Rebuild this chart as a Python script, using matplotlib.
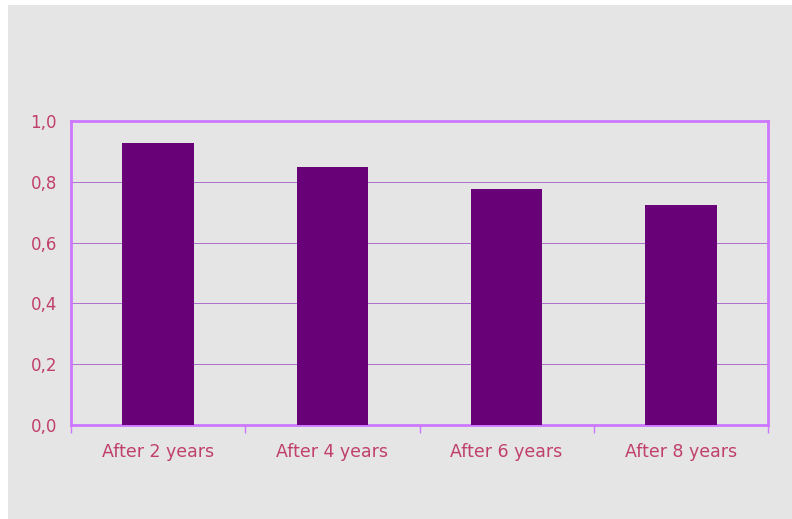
import numpy as np
import matplotlib.pyplot as plt
from matplotlib.patches import Rectangle

categories = ['After 2 years', 'After 4 years', 'After 6 years', 'After 8 years']
values = [0.928, 0.849, 0.776, 0.724]
yticks = [0.0, 0.2, 0.4, 0.6, 0.8, 1.0]
ytick_labels = ['0,0', '0,2', '0,4', '0,6', '0,8', '1,0']

bg = '#e5e5e5'
spine_col = '#cc77ff'
grid_col = '#b070d0'
text_col = '#c0406a'
bar_col = '#680078'

fig = plt.figure(figsize=(7.92, 5.19), dpi=100)
fig.patch.set_facecolor('white')
fig.patches.append(Rectangle((8 / 792, 0), 1, 1 - 5 / 519, transform=fig.transFigure,
                             facecolor=bg, edgecolor='none', zorder=-10))

ax = fig.add_axes([71 / 792, 94 / 519, 697 / 792, 304 / 519])
ax.set_facecolor(bg)

x = np.arange(len(categories))
ax.bar(x, values, width=0.41, color=bar_col, zorder=3)

ax.set_xlim(-0.5, len(categories) - 0.5)
ax.set_ylim(0, 1.0)
ax.set_yticks(yticks)
ax.set_yticklabels(ytick_labels)
ax.yaxis.grid(True, color=grid_col, linewidth=0.7, zorder=1)
ax.set_axisbelow(True)

# category labels centred, ticks at the boundaries
ax.set_xticks(np.arange(-0.5, len(categories), 1.0))
ax.set_xticklabels([])
ax.set_xticks(x, minor=True)
ax.set_xticklabels(categories, minor=True)
ax.tick_params(axis='x', which='major', direction='out', length=6, color=spine_col, width=1)
ax.tick_params(axis='x', which='minor', length=0, pad=13, labelsize=12.5, labelcolor=text_col)
ax.tick_params(axis='y', length=0, pad=10, labelsize=12, labelcolor=text_col)

for s in ax.spines.values():
    s.set_color(spine_col)
    s.set_linewidth(2)

fig.savefig('out.png', dpi=100)
